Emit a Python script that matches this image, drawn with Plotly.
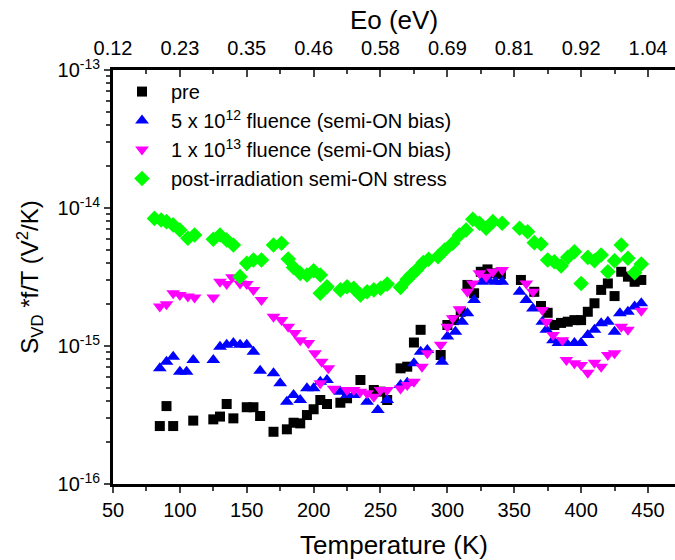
import plotly.graph_objects as go

# Temperature (K) and normalized noise S_VD*f/T (V^2/K) for each condition
T_pre = [85, 90, 95, 110, 125, 130, 135, 140, 150, 155, 160, 170, 180, 185, 190, 195, 200, 205, 210, 220,
         225, 235, 245, 250, 255, 265, 270, 275, 280, 295, 300, 305, 310, 315, 320, 325, 330, 335, 340, 355,
         365, 370, 375, 380, 385, 390, 395, 400, 405, 410, 415, 420, 425, 430, 435, 440, 445]
S_pre = [2.63e-16, 3.67e-16, 2.63e-16, 2.88e-16, 2.94e-16, 3.08e-16, 3.80e-16, 2.99e-16, 3.60e-16, 3.60e-16,
         3.11e-16, 2.39e-16, 2.49e-16, 2.78e-16, 2.75e-16, 3.16e-16, 3.48e-16, 4.06e-16, 3.80e-16, 3.88e-16,
         4.18e-16, 5.67e-16, 4.80e-16, 4.67e-16, 4.06e-16, 6.89e-16, 7.08e-16, 1.06e-15, 1.31e-15, 8.61e-16,
         1.42e-15, 1.54e-15, 1.77e-15, 2.77e-15, 2.41e-15, 3.45e-15, 3.59e-15, 3.36e-15, 3.33e-15, 3.01e-15,
         2.47e-15, 1.95e-15, 1.74e-15, 1.42e-15, 1.47e-15, 1.50e-15, 1.54e-15, 1.54e-15, 1.77e-15, 2.04e-15,
         2.55e-15, 2.84e-15, 2.30e-15, 3.45e-15, 3.18e-15, 2.92e-15, 3.01e-15]

T_5e12 = [85, 90, 95, 100, 105, 110, 125, 130, 135, 140, 145, 150, 155, 160, 170, 175, 180, 185, 190, 195,
          200, 205, 210, 220, 225, 230, 240, 248, 255, 265, 270, 275, 280, 285, 296, 300, 306, 311, 315, 320,
          326, 331, 336, 341, 354, 359, 364, 371, 374, 379, 383, 389, 395, 400, 405, 410, 415, 420, 425, 429,
          435, 440, 445]
S_5e12 = [6.89e-16, 7.69e-16, 8.36e-16, 6.51e-16, 6.51e-16, 7.92e-16, 7.92e-16, 9.89e-16, 1.02e-15, 1.05e-15,
          1.02e-15, 1.02e-15, 9.10e-16, 6.62e-16, 6.34e-16, 5.37e-16, 3.95e-16, 4.41e-16, 4.06e-16, 4.94e-16,
          4.94e-16, 5.51e-16, 5.67e-16, 4.67e-16, 4.41e-16, 4.41e-16, 3.95e-16, 3.44e-16, 4.06e-16, 5.21e-16,
          5.42e-16, 7.50e-16, 9.10e-16, 9.35e-16, 7.69e-16, 1.17e-15, 1.27e-15, 1.50e-15, 1.73e-15, 2.15e-15,
          2.92e-15, 2.97e-15, 2.92e-15, 2.92e-15, 2.47e-15, 2.15e-15, 1.87e-15, 1.50e-15, 1.31e-15, 1.10e-15,
          1.05e-15, 1.05e-15, 1.05e-15, 1.05e-15, 1.20e-15, 1.31e-15, 1.46e-15, 1.50e-15, 1.27e-15, 1.73e-15,
          1.77e-15, 1.93e-15, 2.04e-15]

T_1e13 = [85, 90, 95, 100, 106, 111, 125, 130, 135, 139, 145, 150, 155, 161, 170, 176, 181, 186, 190, 196,
          201, 206, 211, 205, 215, 225, 230, 235, 240, 245, 250, 255, 265, 270, 275, 281, 285, 295, 300, 304,
          309, 315, 319, 324, 329, 334, 341, 359, 364, 371, 374, 379, 386, 389, 395, 400, 405, 410, 415, 420,
          425, 430, 435, 445]
S_1e13 = [1.93e-15, 2.01e-15, 2.41e-15, 2.34e-15, 2.28e-15, 2.25e-15, 2.25e-15, 2.92e-15, 2.81e-15, 3.15e-15,
          2.84e-15, 2.81e-15, 2.55e-15, 2.15e-15, 1.63e-15, 1.54e-15, 1.38e-15, 1.24e-15, 1.10e-15, 1.05e-15,
          8.86e-16, 7.69e-16, 6.89e-16, 5.37e-16, 4.90e-16, 4.80e-16, 4.80e-16, 4.67e-16, 4.54e-16, 4.29e-16,
          4.80e-16, 4.80e-16, 4.93e-16, 5.21e-16, 5.51e-16, 7.08e-16, 8.86e-16, 1.02e-15, 1.38e-15, 1.59e-15,
          1.85e-15, 2.47e-15, 2.84e-15, 3.36e-15, 3.18e-15, 3.45e-15, 3.55e-15, 2.84e-15, 2.47e-15, 1.82e-15,
          1.50e-15, 1.20e-15, 1.10e-15, 7.92e-16, 7.50e-16, 7.28e-16, 6.41e-16, 7.57e-16, 7.08e-16, 8.61e-16,
          8.86e-16, 1.38e-15, 1.31e-15, 1.80e-15]

T_stress = [81, 86, 90, 95, 100, 106, 111, 125, 130, 135, 140, 145, 150, 155, 161, 170, 176, 181, 185, 190,
            195, 200, 205, 205, 210, 220, 225, 230, 235, 240, 245, 250, 255, 265, 270, 273, 277, 282, 286, 293,
            298, 304, 309, 314, 319, 324, 329, 334, 341, 354, 360, 365, 370, 375, 380, 385, 390, 395, 400, 405,
            410, 415, 420, 425, 430, 435, 440, 445]
S_stress = [8.41e-15, 8.19e-15, 7.96e-15, 7.54e-15, 6.93e-15, 6.03e-15, 6.37e-15, 5.93e-15, 6.37e-15, 5.86e-15,
            5.39e-15, 3.18e-15, 3.97e-15, 4.20e-15, 4.20e-15, 5.39e-15, 5.55e-15, 4.27e-15, 3.71e-15, 3.36e-15,
            3.27e-15, 3.51e-15, 3.27e-15, 2.41e-15, 2.69e-15, 2.55e-15, 2.69e-15, 2.62e-15, 2.34e-15, 2.47e-15,
            2.55e-15, 2.62e-15, 2.81e-15, 2.66e-15, 3.04e-15, 3.27e-15, 3.55e-15, 4.02e-15, 4.25e-15, 4.44e-15,
            4.96e-15, 5.55e-15, 6.37e-15, 6.93e-15, 8.29e-15, 7.75e-15, 7.13e-15, 7.96e-15, 7.75e-15, 7.13e-15,
            6.73e-15, 5.61e-15, 5.48e-15, 4.20e-15, 4.08e-15, 3.80e-15, 4.39e-15, 4.82e-15, 2.84e-15, 4.39e-15,
            4.15e-15, 4.56e-15, 3.45e-15, 4.15e-15, 5.39e-15, 4.32e-15, 3.40e-15, 3.93e-15]

# Axis ticks
T_ticks = [50, 100, 150, 200, 250, 300, 350, 400, 450]
Eo_labels = ["0.12", "0.23", "0.35", "0.46", "0.58", "0.69", "0.81", "0.92", "1.04"]
y_tickvals = [1e-16, 1e-15, 1e-14, 1e-13]
y_ticktext = ["10<sup>-16</sup>", "10<sup>-15</sup>", "10<sup>-14</sup>", "10<sup>-13</sup>"]

FONT = "Arial, 'Liberation Sans', sans-serif"
X_RANGE = [50, 470.2]

fig = go.Figure()
series = [
    (T_pre, S_pre, "pre", "square", "#000000", 10),
    (T_5e12, S_5e12, "5 x 10<sup>12</sup> fluence (semi-ON bias)", "triangle-up", "#0000FF", 12),
    (T_1e13, S_1e13, "1 x 10<sup>13</sup> fluence (semi-ON bias)", "triangle-down", "#FF00FF", 12),
    (T_stress, S_stress, "post-irradiation semi-ON stress", "diamond", "#00FF00", 12),
]
for tx, sy, name, sym, col, sz in series:
    fig.add_trace(go.Scatter(
        x=tx, y=sy, mode="markers", name=name,
        marker=dict(symbol=sym, color=col, size=sz, line=dict(width=0)),
    ))

# Invisible trace so the top (Eo) axis is drawn
fig.add_trace(go.Scatter(x=[T_ticks[0]], y=[1e-15], xaxis="x2", mode="markers",
                         marker=dict(opacity=0), showlegend=False, hoverinfo="skip"))

fig.update_layout(
    width=675, height=560,
    margin=dict(l=113, r=0, t=70, b=76),
    plot_bgcolor="white", paper_bgcolor="white",
    font=dict(family=FONT, color="black", size=20),
    showlegend=True,
    legend=dict(x=0.0, y=0.995, xanchor="left", yanchor="top",
                bgcolor="rgba(0,0,0,0)", font=dict(size=20), tracegroupgap=0,
                itemwidth=48),
    xaxis=dict(
        range=X_RANGE, tickvals=T_ticks, ticks="outside", ticklen=6, tickwidth=2,
        showline=True, linewidth=3, linecolor="black", showgrid=False, zeroline=False,
        minor=dict(ticks="outside", ticklen=4, tickwidth=2, dtick=25, tick0=50, showgrid=False),
        tickfont=dict(size=20),
        title=dict(text="Temperature (K)", font=dict(size=26), standoff=16),
    ),
    xaxis2=dict(
        range=X_RANGE, overlaying="x", side="top", tickvals=T_ticks, ticktext=Eo_labels,
        ticks="inside", ticklen=7, tickwidth=2, ticklabelstandoff=4,
        showline=True, linewidth=3, linecolor="black", showgrid=False, zeroline=False,
        minor=dict(ticks="inside", ticklen=4, tickwidth=2, dtick=25, tick0=50, showgrid=False),
        tickfont=dict(size=20),
        title=dict(text="Eo (eV)", font=dict(size=26), standoff=0),
    ),
    yaxis=dict(
        type="log", range=[-16, -13], tickvals=y_tickvals, ticktext=y_ticktext,
        ticks="outside", ticklen=6, tickwidth=2,
        showline=True, linewidth=3, linecolor="black", showgrid=False, zeroline=False,
        minor=dict(ticks="outside", ticklen=4, tickwidth=2, dtick="D1", showgrid=False),
        tickfont=dict(size=20),
        title=dict(text="S<sub>VD</sub> *f/T (V<sup>2</sup>/K)", font=dict(size=24), standoff=13),
    ),
)

fig.write_html("out.html")
